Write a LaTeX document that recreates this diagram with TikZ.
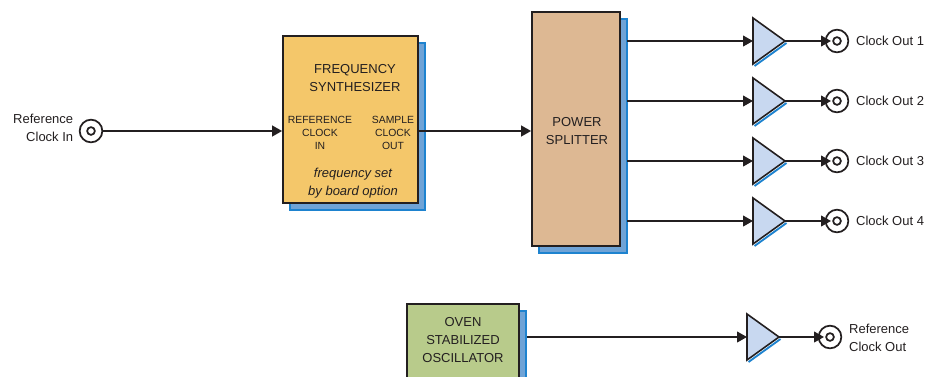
\documentclass[tikz,border=0pt]{standalone}
\usepackage{fontspec}
\setmainfont{Liberation Sans}
\usetikzlibrary{arrows.meta,shadows,positioning}
\definecolor{synthfill}{HTML}{F4C76A}
\definecolor{splitfill}{HTML}{DDB893}
\definecolor{oscfill}{HTML}{B8CB8B}
\definecolor{ampfill}{HTML}{C8D8F0}
\definecolor{shadowfill}{HTML}{6FA3D6}
\definecolor{shadowedge}{HTML}{1E83CF}
\definecolor{edgegray}{HTML}{231F20}

\begin{document}
\begin{tikzpicture}[x=0.75pt, y=-0.75pt,
    every node/.style={font=\fontsize{9.75}{13.5}\selectfont, text=edgegray},
    block/.style={draw=edgegray, line width=1.3pt, inner sep=0pt, align=center,
        general shadow={fill=shadowfill, draw=shadowedge, line width=0.8pt,
            shadow xshift=5.25pt, shadow yshift=-5.25pt}},
    intext/.style={inner sep=0pt, align=center},
    smalltext/.style={inner sep=0pt, align=center, font=\fontsize{7.8}{9.75}\selectfont},
    outlabel/.style={inner sep=0pt, align=left},
    jack/.style={circle, draw=edgegray, line width=1.3pt, fill=white, minimum size=17pt, inner sep=0pt,
        path picture={\draw[edgegray, line width=1.3pt] (path picture bounding box.center) circle (2.9pt);}},
    wire/.style={draw=edgegray, line width=1.5pt, -{Triangle[length=7.5pt,width=8pt]}},
    amp/.style={draw=edgegray, line width=1.2pt, fill=ampfill},
    ampline/.style={draw=shadowedge, line width=1.4pt}]
    \clip (0,0) rectangle (931,376);

    % input side
    \node[jack] (jin) at (91,131) {};
    \node[outlabel, align=right, left=4pt of jin, yshift=2pt] (lin) {Reference\\Clock In};
    \node[block, fill=synthfill, minimum width=101.25pt, minimum height=125.25pt] (synth) at (350.5,119.5) {};
    \node[intext] (synthname) at (355,78) {FREQUENCY\\SYNTHESIZER};
    \node[smalltext] (refin) at (320,133) {REFERENCE\\CLOCK\\IN};
    \node[smalltext] (smpout) at (393,133) {SAMPLE\\CLOCK\\OUT};
    \node[intext, font=\fontsize{9.75}{13.5}\selectfont\itshape] (fset) at (353,183) {frequency set\\by board option};
    \node[block, fill=splitfill, minimum width=66pt, minimum height=175.5pt] (split) at (576,129) {};
    \node[intext] (splitname) at (577,131) {POWER\\SPLITTER};
    \draw[wire] (jin) -- (jin -| synth.west);
    \draw[wire] (jin -| synth.east) -- (jin -| split.west);

    % output 1
    \coordinate (s1) at (627,41);
    \coordinate (a1) at (753,41);
    \draw[ampline] ([shift={(1.5,25)}]a1) -- ([shift={(33.5,2)}]a1);
    \draw[amp] ([shift={(0,-23)}]a1) -- ([shift={(32,0)}]a1) coordinate (t1) -- ([shift={(0,23)}]a1) -- cycle;
    \node[jack] (j1) at (837,41) {};
    \node[outlabel, right=5pt of j1] (l1) {Clock Out 1};
    \draw[wire] (s1) -- (a1);
    \draw[wire] (t1) -- ([xshift=-4.5pt]j1.center);

    % output 2
    \coordinate (s2) at (627,101);
    \coordinate (a2) at (753,101);
    \draw[ampline] ([shift={(1.5,25)}]a2) -- ([shift={(33.5,2)}]a2);
    \draw[amp] ([shift={(0,-23)}]a2) -- ([shift={(32,0)}]a2) coordinate (t2) -- ([shift={(0,23)}]a2) -- cycle;
    \node[jack] (j2) at (837,101) {};
    \node[outlabel, right=5pt of j2] (l2) {Clock Out 2};
    \draw[wire] (s2) -- (a2);
    \draw[wire] (t2) -- ([xshift=-4.5pt]j2.center);

    % output 3
    \coordinate (s3) at (627,161);
    \coordinate (a3) at (753,161);
    \draw[ampline] ([shift={(1.5,25)}]a3) -- ([shift={(33.5,2)}]a3);
    \draw[amp] ([shift={(0,-23)}]a3) -- ([shift={(32,0)}]a3) coordinate (t3) -- ([shift={(0,23)}]a3) -- cycle;
    \node[jack] (j3) at (837,161) {};
    \node[outlabel, right=5pt of j3] (l3) {Clock Out 3};
    \draw[wire] (s3) -- (a3);
    \draw[wire] (t3) -- ([xshift=-4.5pt]j3.center);

    % output 4
    \coordinate (s4) at (627,221);
    \coordinate (a4) at (753,221);
    \draw[ampline] ([shift={(1.5,25)}]a4) -- ([shift={(33.5,2)}]a4);
    \draw[amp] ([shift={(0,-23)}]a4) -- ([shift={(32,0)}]a4) coordinate (t4) -- ([shift={(0,23)}]a4) -- cycle;
    \node[jack] (j4) at (837,221) {};
    \node[outlabel, right=5pt of j4] (l4) {Clock Out 4};
    \draw[wire] (s4) -- (a4);
    \draw[wire] (t4) -- ([xshift=-4.5pt]j4.center);

    % oscillator
    \node[block, fill=oscfill, minimum width=84pt, minimum height=55.5pt] (osc) at (463,341) {};
    \node[intext] (oscname) at (463,340) {OVEN\\STABILIZED\\OSCILLATOR};
    \coordinate (s5) at (527,337);
    \coordinate (a5) at (747,337);
    \draw[ampline] ([shift={(1.5,25)}]a5) -- ([shift={(33.5,2)}]a5);
    \draw[amp] ([shift={(0,-23)}]a5) -- ([shift={(32,0)}]a5) coordinate (t5) -- ([shift={(0,23)}]a5) -- cycle;
    \node[jack] (j5) at (830,337) {};
    \node[outlabel, right=5pt of j5, yshift=-1pt] (l5) {Reference\\Clock Out};
    \draw[wire] (s5) -- (a5);
    \draw[wire] (t5) -- ([xshift=-4.5pt]j5.center);
\end{tikzpicture}
\end{document}
